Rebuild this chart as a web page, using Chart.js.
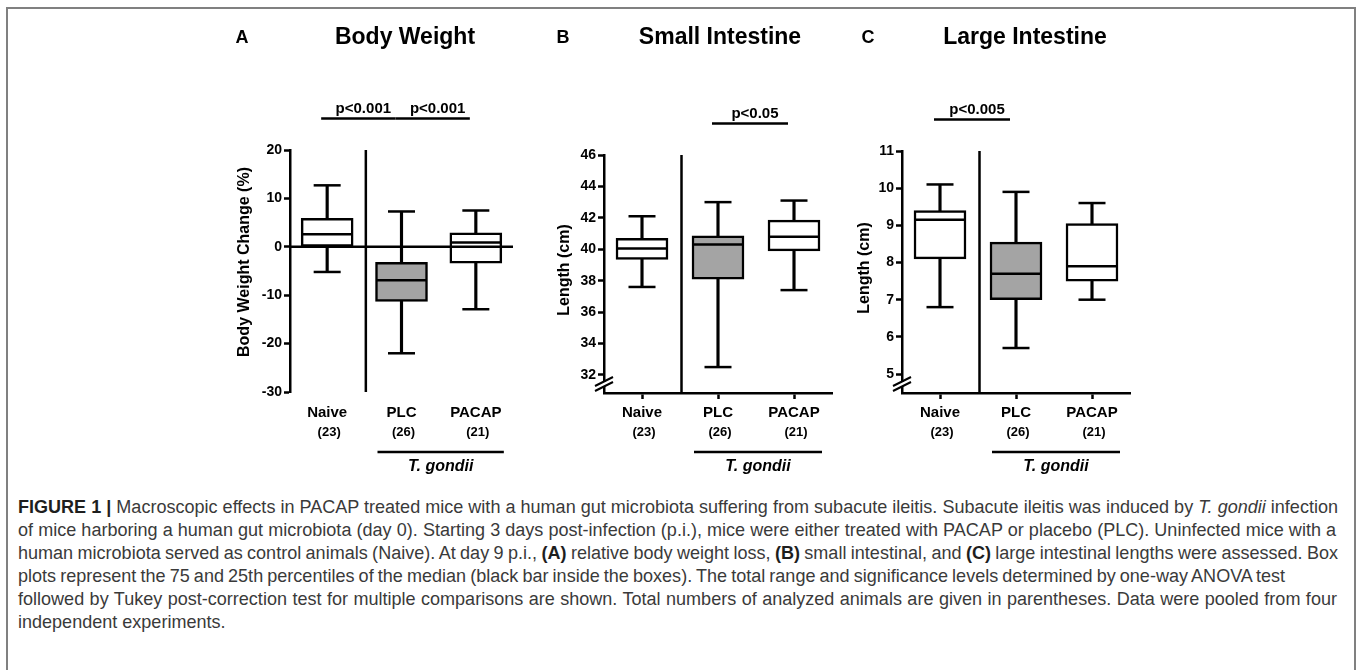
<!DOCTYPE html>
<html>
<head>
<meta charset="utf-8">
<script src="https://cdn.jsdelivr.net/npm/chart.js@4.4.1/dist/chart.umd.min.js"></script>
<style>
  body { margin:0; background:#fff; width:1357px; height:670px; overflow:hidden; position:relative;
         font-family:'Liberation Sans', Arial, sans-serif; }
  #frame { position:absolute; left:6px; top:7px; width:1346px; height:720px; border:2px solid #808080; }
  canvas { position:absolute; top:0; }
  #cap { position:absolute; left:18px; top:496px; color:#3a3a3a; font-size:16px; line-height:23px; white-space:nowrap; }
  #cap b { color:#1e1e1e; }
</style>
</head>
<body>
<div id="frame"></div>
<canvas id="bw" width="340" height="490" style="left:200px"></canvas>
<canvas id="si" width="320" height="490" style="left:540px"></canvas>
<canvas id="li" width="320" height="490" style="left:840px"></canvas>
<div id="cap">
<div><span><b>FIGURE 1 |</b> Macroscopic effects in PACAP treated mice with a human gut microbiota suffering from subacute ileitis. Subacute ileitis was induced by <i>T. gondii</i> infection</span></div>
<div><span>of mice harboring a human gut microbiota (day 0). Starting 3 days post-infection (p.i.), mice were either treated with PACAP or placebo (PLC). Uninfected mice with a</span></div>
<div><span>human microbiota served as control animals (Naive). At day 9 p.i., <b>(A)</b> relative body weight loss, <b>(B)</b> small intestinal, and <b>(C)</b> large intestinal lengths were assessed. Box</span></div>
<div><span>plots represent the 75 and 25th percentiles of the median (black bar inside the boxes). The total range and significance levels determined by one-way ANOVA test</span></div>
<div><span>followed by Tukey post-correction test for multiple comparisons are shown. Total numbers of analyzed animals are given in parentheses. Data were pooled from four</span></div>
<div><span>independent experiments.</span></div>
</div>
<script>
const groups = ['Naive', 'PLC', 'PACAP'];
const groupSizes = [23, 26, 21];
const boxFills = ['#ffffff', '#a4a4a4', '#ffffff'];

// A: body weight change (%)
const bwMin = [-5.2, -22.0, -12.9];
const bwQ1 = [0.1, -11.3, -3.4];
const bwMedian = [2.6, -6.9, 0.9];
const bwQ3 = [5.9, -3.2, 2.9];
const bwMax = [12.7, 7.3, 7.5];
const bwTicks = [-30, -20, -10, 0, 10, 20];
const bwRange = [-30, 20];
const bwSig = [[0, 1, 'p<0.001'], [1, 2, 'p<0.001']];

// B: small intestine length (cm)
const siMin = [37.6, 32.5, 37.4];
const siQ1 = [39.35, 38.1, 39.9];
const siMedian = [40.05, 40.3, 40.8];
const siQ3 = [40.7, 40.85, 41.85];
const siMax = [42.1, 43.0, 43.1];
const siTicks = [32, 34, 36, 38, 40, 42, 44, 46];
const siRange = [30.85, 46];
const siSig = [[1, 2, 'p<0.05']];

// C: large intestine length (cm)
const liMin = [6.8, 5.7, 7.0];
const liQ1 = [8.1, 7.0, 7.5];
const liMedian = [9.15, 7.7, 7.9];
const liQ3 = [9.4, 8.55, 9.05];
const liMax = [10.1, 9.9, 9.6];
const liTicks = [5, 6, 7, 8, 9, 10, 11];
const liRange = [4.49, 11];
const liSig = [[0, 1, 'p<0.005']];

const FONT = "'Liberation Sans', Arial, sans-serif";

function line(ctx, x1, y1, x2, y2) {
  ctx.beginPath(); ctx.moveTo(x1, y1); ctx.lineTo(x2, y2); ctx.stroke();
}

// titles, separator, significance bars, group sizes, T. gondii bracket
const panelDecor = {
  id: 'panelDecor',
  afterDraw(chart, args, o) {
    const ctx = chart.ctx, a = chart.chartArea, x = chart.scales.x, y = chart.scales.y;
    ctx.save();
    ctx.fillStyle = '#000'; ctx.strokeStyle = '#000'; ctx.lineWidth = 2.5;
    ctx.textAlign = 'center'; ctx.textBaseline = 'middle';

    ctx.font = 'bold 18px ' + FONT;
    ctx.fillText(o.letter, a.left + o.letterDx, 38);
    ctx.font = 'bold 23px ' + FONT;
    ctx.fillText(o.title, a.left + o.titleDx, 38);

    ctx.save();
    ctx.translate(a.left + o.yTitleDx, o.yTitleY);
    ctx.rotate(-Math.PI / 2);
    ctx.font = 'bold 16px ' + FONT;
    ctx.fillText(o.yTitle, 0, 0);
    ctx.restore();

    // separator between uninfected and infected groups
    const sx = (x.getPixelForValue(0) + x.getPixelForValue(1)) / 2 + 1.5;
    line(ctx, sx, a.top, sx, a.bottom);

    if (o.zeroLine) {
      const zy = y.getPixelForValue(0);
      line(ctx, a.left, zy, a.right, zy);
    }

    if (o.axisBreak) {
      const by = a.bottom - 9;
      ctx.fillStyle = '#fff';
      ctx.fillRect(a.left - 3, by - 2, 6, 4);
      ctx.fillStyle = '#000';
      ctx.lineWidth = 2;
      line(ctx, a.left - 9, by + 2, a.left + 9, by - 7);
      line(ctx, a.left - 9, by + 7, a.left + 9, by - 2);
      ctx.lineWidth = 2.5;
    }

    ctx.font = 'bold 13px ' + FONT;
    groupSizes.forEach((n, i) => ctx.fillText('(' + n + ')', x.getPixelForValue(i) + 2, 432));

    ctx.font = 'bold 15px ' + FONT;
    const sy = a.top - 31.5;
    o.sig.forEach(([i, j, txt]) => {
      const x1 = x.getPixelForValue(i) - 6, x2 = x.getPixelForValue(j) - 6;
      line(ctx, x1, sy, x2, sy);
      ctx.fillText(txt, (x1 + x2) / 2 + 5, sy - 10);
    });

    const gx1 = x.getPixelForValue(1) - 24, gx2 = x.getPixelForValue(2) + 28;
    line(ctx, gx1, 452, gx2, 452);
    ctx.font = 'italic bold 16px ' + FONT;
    ctx.fillText('T. gondii', (gx1 + gx2) / 2, 467);
    ctx.restore();
  }
};

function makePanel(id, d) {
  const xAxis = d.xLine ? {
    border: { display: true, color: '#000', width: 2.5 },
    grid: { display: true, drawOnChartArea: false, drawTicks: true, offset: false,
            tickLength: 6, tickWidth: 2.5, tickColor: '#000' },
    ticks: { color: '#000', font: { family: FONT, size: 15, weight: 'bold' }, padding: 5 }
  } : {
    border: { display: false },
    grid: { display: false, drawTicks: false },
    ticks: { color: '#000', font: { family: FONT, size: 15, weight: 'bold' }, padding: 12 }
  };
  xAxis.afterFit = s => { s.height = 40; };

  return new Chart(document.getElementById(id), {
    type: 'bar',
    data: {
      labels: groups,
      datasets: [
        { type: 'line', data: d.median, showLine: false, pointStyle: 'line', pointRadius: 24.5,
          borderColor: '#000', pointBorderWidth: 2.5, borderWidth: 2.5, order: 0 },
        { data: groups.map((g, i) => [d.q1[i], d.q3[i]]), backgroundColor: boxFills,
          borderColor: '#000', borderWidth: 2.5, borderSkipped: false, barThickness: 52,
          grouped: false, order: 1 },
        { type: 'line', data: d.max, showLine: false, pointStyle: 'line', pointRadius: 13.5,
          borderColor: '#000', pointBorderWidth: 2.5, borderWidth: 2.5, order: 2 },
        { type: 'line', data: d.min, showLine: false, pointStyle: 'line', pointRadius: 13.5,
          borderColor: '#000', pointBorderWidth: 2.5, borderWidth: 2.5, order: 2 },
        { data: groups.map((g, i) => [d.min[i], d.max[i]]), backgroundColor: '#000',
          borderWidth: 0, barThickness: 2.5, grouped: false, order: 3 }
      ]
    },
    options: {
      responsive: false,
      animation: false,
      events: [],
      layout: { padding: d.pad },
      scales: {
        x: xAxis,
        y: {
          min: d.range[0], max: d.range[1],
          afterBuildTicks: s => { s.ticks = d.ticks.map(v => ({ value: v })); },
          afterFit: s => { s.width = 50; },
          border: { display: true, color: '#000', width: 2.5 },
          grid: { display: true, drawOnChartArea: false, drawTicks: true,
                  tickLength: 6, tickWidth: 2.5, tickColor: '#000' },
          ticks: { color: '#000', padding: 2, font: { family: FONT, size: 14, weight: 'bold' } }
        }
      },
      plugins: {
        legend: { display: false },
        tooltip: { enabled: false },
        panelDecor: d.decor
      }
    },
    plugins: [panelDecor]
  });
}

makePanel('bw', {
  min: bwMin, q1: bwQ1, median: bwMedian, q3: bwQ3, max: bwMax,
  ticks: bwTicks, range: bwRange, xLine: false,
  pad: { left: 40, right: 19, top: 150, bottom: 58 },
  decor: { letter: 'A', letterDx: -48, title: 'Body Weight', titleDx: 115,
           yTitle: 'Body Weight Change (%)', yTitleDx: -45, yTitleY: 262,
           zeroLine: true, axisBreak: false, sig: bwSig }
});

makePanel('si', {
  min: siMin, q1: siQ1, median: siMedian, q3: siQ3, max: siMax,
  ticks: siTicks, range: siRange, xLine: true,
  pad: { left: 14, right: 28, top: 155, bottom: 57 },
  decor: { letter: 'B', letterDx: -41, title: 'Small Intestine', titleDx: 116,
           yTitle: 'Length (cm)', yTitleDx: -39, yTitleY: 270,
           zeroLine: false, axisBreak: true, sig: siSig }
});

makePanel('li', {
  min: liMin, q1: liQ1, median: liMedian, q3: liQ3, max: liMax,
  ticks: liTicks, range: liRange, xLine: true,
  pad: { left: 12, right: 30, top: 151, bottom: 57 },
  decor: { letter: 'C', letterDx: -34, title: 'Large Intestine', titleDx: 123,
           yTitle: 'Length (cm)', yTitleDx: -37, yTitleY: 268,
           zeroLine: false, axisBreak: true, sig: liSig }
});

// caption: one font size from the first line, then word spacing per line
const cap = document.getElementById('cap');
const spans = Array.from(cap.querySelectorAll('span'));
const lineWidths = [1320, 1318, 1320, 1267, 1319];
cap.style.fontSize = (16 * 1320 / spans[0].getBoundingClientRect().width).toFixed(2) + 'px';
lineWidths.forEach((target, i) => {
  const s = spans[i];
  const gaps = (s.textContent.match(/ /g) || []).length;
  const extra = (target - s.getBoundingClientRect().width) / gaps;
  s.style.wordSpacing = extra.toFixed(2) + 'px';
});
</script>
</body>
</html>
